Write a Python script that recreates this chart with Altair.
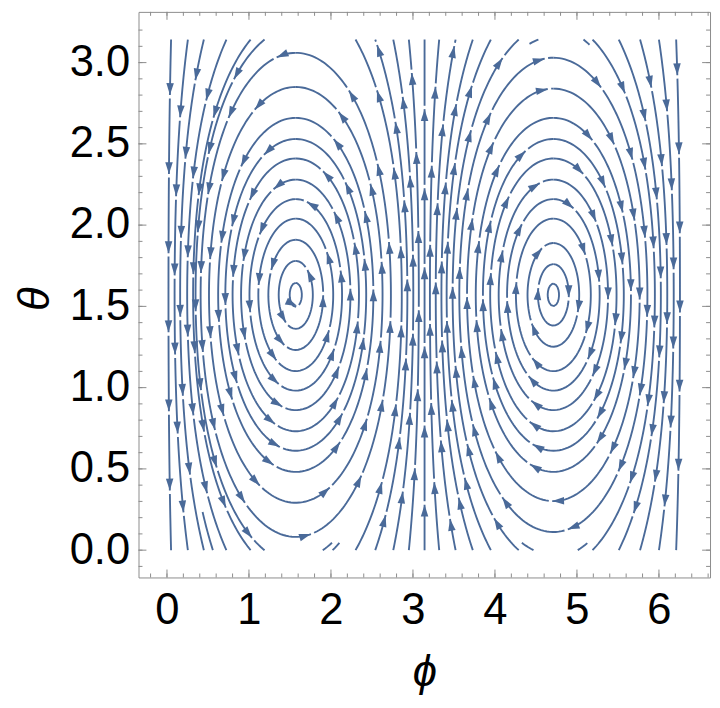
import math
import numpy as np
import pandas as pd
import altair as alt

# ---------------- values ----------------
# closed streamlines: theta where each loop crosses phi = pi/2 (left eddy) / 3pi/2 (right eddy), upper side
left_loop_tops = [3.06, 2.85, 2.66, 2.53, 2.41, 2.28, 2.16, 2.04, 1.91, 1.78, 1.645]
right_loop_tops = [3.03, 2.84, 2.66, 2.53, 2.41, 2.28, 2.16, 2.04, 1.89, 1.76, 1.64]
# open streamlines: phi where each one meets the theta = 0 edge
open_line_phi = [0.05, 0.255, 0.45, 0.725, 1.02, 1.19,
                 2.30, 2.54, 2.76, 2.95, 3.1416, 3.32, 3.52, 3.73, 3.95, 4.29,
                 5.19, 5.51, 5.77, 6.0, 6.21]
# short streamline pieces at the edges
piece_phi = [1.90, 2.02, 4.47, 5.01, 4.53, 5.08, 0.56]
piece_theta = [0.0, 0.0, 0.0, 0.0, 3.1416, 3.1416, 0.0]
piece_len = [12, 10, 14, 12, 10, 8, 40]

x_major = [0, 1, 2, 3, 4, 5, 6]
y_major = [0.0, 0.5, 1.0, 1.5, 2.0, 2.5, 3.0]
x_minor = [round(-0.2 + 0.2 * i, 1) for i in range(35)]
y_minor = [round(-0.1 + 0.1 * i, 1) for i in range(34)]

# ---------------- layout ----------------
W, H = 578, 572
XDOM = [-0.347, 6.623]
YDOM = [-0.168, 3.312]
SX = W / (XDOM[1] - XDOM[0])
SY = H / (YDOM[1] - YDOM[0])
LINE_C = "#4a6a99"
FRAME_C = "#8c8c8c"
PI = math.pi


def vel(p, t):
    vp = math.sin(p) * math.cos(t)
    vt = -math.cos(p)
    n = math.hypot(vp * SX, vt * SY)
    if n < 1e-12:
        return 0.0, 0.0
    return vp / n, vt / n


def trace(p0, t0, sgn, maxlen, closed=False):
    pts = [(p0, t0)]
    p, t = p0, t0
    h = sgn * 1.0
    for i in range(int(maxlen)):
        k1 = vel(p, t)
        k2 = vel(p + 0.5 * h * k1[0], t + 0.5 * h * k1[1])
        k3 = vel(p + 0.5 * h * k2[0], t + 0.5 * h * k2[1])
        k4 = vel(p + h * k3[0], t + h * k3[1])
        pn = p + h / 6 * (k1[0] + 2 * k2[0] + 2 * k3[0] + k4[0])
        tn = t + h / 6 * (k1[1] + 2 * k2[1] + 2 * k3[1] + k4[1])
        if not (0 <= tn <= PI and 0 <= pn <= 2 * PI):
            f = 1.0
            if tn < 0:
                f = min(f, (0 - t) / (tn - t))
            if tn > PI:
                f = min(f, (PI - t) / (tn - t))
            if pn < 0:
                f = min(f, (0 - p) / (pn - p))
            if pn > 2 * PI:
                f = min(f, (2 * PI - p) / (pn - p))
            pts.append((p + f * (pn - p), t + f * (tn - t)))
            break
        p, t = pn, tn
        pts.append((p, t))
        if closed and i > 40 and math.hypot((p - p0) * SX, (t - t0) * SY) < 0.75:
            pts.append((p0, t0))
            break
    return pts


line_rows, arrow_rows = [], []
seg_id = [0]
L_ARROW, GAP, HALF = 80.0, 3.5, 6.3


def emit(pts, offset, arrows=True):
    arr = np.array(pts)
    if len(arr) < 2:
        return
    d = np.hypot(np.diff(arr[:, 0]) * SX, np.diff(arr[:, 1]) * SY)
    s = np.concatenate([[0.0], np.cumsum(d)])
    total = s[-1]
    tips = list(np.arange(offset, total - 4, L_ARROW)) if arrows else []
    starts = [0.0] + [tp + GAP for tp in tips]
    ends = tips + [total]
    for a, b in zip(starts, ends):
        if b - a < 1.5:
            continue
        ss = np.append(np.arange(a, b, 3.0), b)
        ph = np.interp(ss, s, arr[:, 0])
        th = np.interp(ss, s, arr[:, 1])
        for k in range(len(ss)):
            line_rows.append({"phi": ph[k], "theta": th[k], "seg": seg_id[0], "o": k})
        seg_id[0] += 1
    for tp in tips:
        c = tp - HALF
        if c < 2:
            continue
        pc = np.interp(c, s, arr[:, 0])
        tc = np.interp(c, s, arr[:, 1])
        p1, t1 = np.interp(tp, s, arr[:, 0]), np.interp(tp, s, arr[:, 1])
        p0, t0 = np.interp(tp - 4, s, arr[:, 0]), np.interp(tp - 4, s, arr[:, 1])
        dx = (p1 - p0) * SX
        dy = -(t1 - t0) * SY
        ang = math.degrees(math.atan2(dx, -dy)) % 360
        arrow_rows.append({"phi": pc, "theta": tc, "angle": ang})


idx = 0
for centre, tops in ((PI / 2, left_loop_tops), (3 * PI / 2, right_loop_tops)):
    for tt in tops:
        pts = trace(centre, tt, 1, 5000, closed=True)
        emit(pts, 20 + (idx * 29) % 70)
        idx += 1

for pe in open_line_phi:
    fwd = trace(pe, 0.0, 1, 3000)
    bwd = trace(pe, 0.0, -1, 3000)
    pts = bwd[::-1] + fwd[1:]
    emit(pts, 30 + (idx * 23) % 60)
    idx += 1

for pp, tt, ln in zip(piece_phi, piece_theta, piece_len):
    fwd = trace(pp, tt, 1, ln)
    bwd = trace(pp, tt, -1, ln)
    pts = bwd[::-1] + fwd[1:]
    emit(pts, 0, arrows=False)

df_lines = pd.DataFrame(line_rows)
df_arrows = pd.DataFrame(arrow_rows)

xs = alt.Scale(domain=XDOM, nice=False, zero=False)
ys = alt.Scale(domain=YDOM, nice=False, zero=False)

x_axis = alt.Axis(values=x_major, format="d", ticks=False, domain=False, grid=False,
                  labelFont="Liberation Sans", labelFontSize=44, labelColor="#000000",
                  labelPadding=12, labelFlush=False,
                  title="ϕ", titleFont="Liberation Sans, DejaVu Sans", titleFontSize=44,
                  titleFontStyle="italic", titleFontWeight="normal", titleColor="#000000",
                  titleX=W / 2, titleY=109, titleBaseline="alphabetic", titleAlign="center")
y_axis = alt.Axis(values=y_major, format=".1f", ticks=False, domain=False, grid=False,
                  labelFont="Liberation Sans", labelFontSize=44, labelColor="#000000",
                  labelPadding=9, labelFlush=False,
                  title="θ", titleFont="Liberation Sans", titleFontSize=44,
                  titleFontStyle="italic", titleFontWeight="normal", titleColor="#000000",
                  titleAngle=270, titleX=-91, titleY=290, titleBaseline="alphabetic",
                  titleAlign="center")


def X(field):
    return alt.X(field, type="quantitative", scale=xs, axis=x_axis)


def Y(field):
    return alt.Y(field, type="quantitative", scale=ys, axis=y_axis)


lines = alt.Chart(df_lines).mark_line(color=LINE_C, strokeWidth=1.9, strokeCap="butt").encode(
    x=X("phi"), y=Y("theta"), detail="seg:N", order="o:Q",
)

ARROW = "M0,-1L0.6,0.9L-0.6,0.9Z"
arrows = alt.Chart(df_arrows).mark_point(shape=ARROW, filled=True, size=160, color=LINE_C,
                                         opacity=1, strokeWidth=0).encode(
    x=X("phi"), y=Y("theta"), angle=alt.Angle("angle:Q", scale=None),
)


def xticks(vals, length):
    base = alt.Chart(pd.DataFrame({"phi": vals}))
    b = base.mark_rule(color=FRAME_C, strokeWidth=1).encode(
        x=X("phi"), y=alt.value(H), y2=alt.value(H - length))
    t = base.mark_rule(color=FRAME_C, strokeWidth=1).encode(
        x=X("phi"), y=alt.value(0), y2=alt.value(length))
    return [b, t]


def yticks(vals, length):
    base = alt.Chart(pd.DataFrame({"theta": vals}))
    l = base.mark_rule(color=FRAME_C, strokeWidth=1).encode(
        y=Y("theta"), x=alt.value(0), x2=alt.value(length))
    r = base.mark_rule(color=FRAME_C, strokeWidth=1).encode(
        y=Y("theta"), x=alt.value(W), x2=alt.value(W - length))
    return [l, r]


layers = [lines, arrows] + xticks(x_minor, 4) + xticks(x_major, 8) + yticks(y_minor, 4) + yticks(y_major, 8)

chart = alt.layer(*layers).properties(
    width=W, height=H,
    padding={"left": 132, "top": 0, "right": 2, "bottom": 120},
    autosize=alt.AutoSizeParams(type="none"),
).configure_view(stroke=FRAME_C, strokeWidth=1)

chart.save("out.html", embed_options={"renderer": "svg", "actions": False})
